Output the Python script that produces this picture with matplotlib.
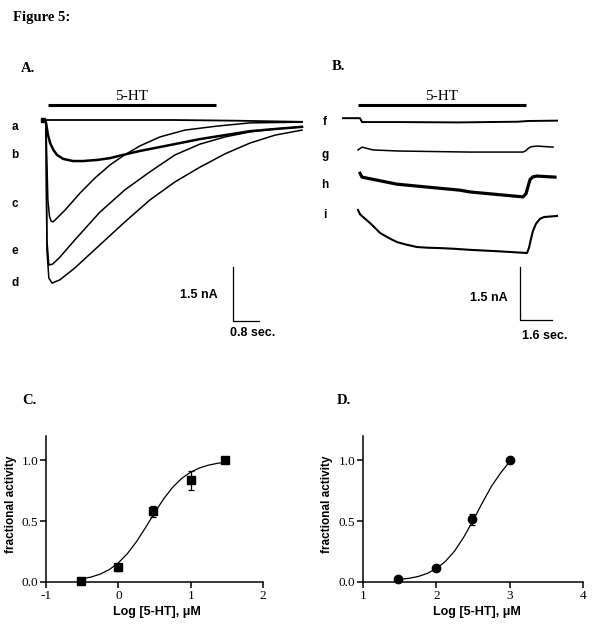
import matplotlib.pyplot as plt

W, H = 600, 627
SERIF = 'Liberation Serif'
SANS = 'Liberation Sans'

# ---- panel A: current traces (time in s, current in nA) ----
a_t = [0, 2, 4, 6, 7.97]
a_i = [0, 0, 0, -0.02, -0.05]
b_t = [0, 0.09, 0.15, 0.22, 0.32, 0.43, 0.62, 0.92, 1.23, 1.66, 2.06, 2.46, 2.98, 3.60, 4.22, 4.83, 5.60, 6.37, 7.14, 7.97]
b_i = [0, -0.06, -0.40, -0.64, -0.83, -0.97, -1.08, -1.14, -1.14, -1.11, -1.06, -0.97, -0.86, -0.75, -0.64, -0.53, -0.42, -0.31, -0.25, -0.19]
c_t = [0, 0.09, 0.15, 0.2, 0.25, 0.3, 0.37, 0.68, 1.14, 1.60, 2.06, 2.46, 2.98, 3.60, 4.37, 5.35, 6.37, 7.97]
c_i = [0, -0.06, -2.22, -2.68, -2.81, -2.83, -2.78, -2.50, -2.03, -1.61, -1.25, -1.00, -0.72, -0.47, -0.28, -0.17, -0.08, -0.06]
e_t = [0, 0.09, 0.12, 0.18, 0.3, 0.52, 0.98, 1.75, 2.52, 3.29, 4.06, 4.83, 5.60, 6.37, 7.14, 7.97]
e_i = [0, -0.06, -3.33, -4.03, -4.00, -3.81, -3.33, -2.56, -1.94, -1.44, -0.97, -0.67, -0.47, -0.33, -0.25, -0.19]
d_t = [0, 0.09, 0.12, 0.18, 0.28, 0.52, 0.98, 1.75, 2.52, 3.29, 4.06, 4.83, 5.60, 6.37, 7.14, 7.97]
d_i = [0, -0.06, -3.61, -4.39, -4.53, -4.44, -4.11, -3.47, -2.83, -2.22, -1.72, -1.31, -0.94, -0.64, -0.42, -0.28]
a_labels = ['a', 'b', 'c', 'e', 'd']
a_app = [0.15, 5.32]          # 5-HT application, s

# ---- panel B: current traces relative to wash baseline ----
f_t = [-0.75, 0.1, 0.2, 2.0, 5.0, 8.0, 8.5, 9.95]
f_i = [0.08, 0.08, -0.03, -0.03, -0.04, -0.02, 0.0, 0.01]
g_t = [0, 0.2, 0.75, 2.0, 5.6, 8.25, 8.4, 8.5, 8.65, 8.95, 9.75]
g_i = [-0.08, 0.0, -0.08, -0.11, -0.14, -0.14, -0.10, -0.04, 0.01, 0.03, 0.0]
h_t = [0.1, 0.2, 1.95, 5.1, 5.6, 8.25, 8.4, 8.5, 8.6, 8.75, 8.95, 9.85]
h_i = [0.08, -0.03, -0.23, -0.40, -0.45, -0.59, -0.50, -0.30, -0.10, -0.02, 0.0, -0.03]
i_t = [0, 0.1, 0.25, 0.4, 0.6, 0.8, 1.1, 1.4, 1.7, 1.95, 2.4, 2.95, 3.5, 4.1, 4.8, 5.6, 7.0, 8.45,
       8.55, 8.65, 8.75, 8.9, 9.1, 9.3, 9.95]
i_i = [0.17, 0.05, -0.03, -0.10, -0.20, -0.31, -0.48, -0.58, -0.67, -0.74, -0.81, -0.88, -0.90, -0.91,
       -0.93, -0.96, -1.00, -1.05, -0.90, -0.65, -0.42, -0.22, -0.08, -0.03, 0.0]
b_labels = ['f', 'g', 'h', 'i']
b_app = [0.0, 8.4]

# ---- panel C / D: concentration-response ----
c_logc = [-0.52, 0.0, 0.48, 1.0, 1.48]
c_frac = [0.005, 0.12, 0.58, 0.835, 1.0]
c_err = [0, 0.03, 0.045, 0.075, 0]
c_fit_x = [-0.52, -0.375, -0.25, -0.125, 0, 0.125, 0.25, 0.375, 0.5, 0.625, 0.75, 0.875, 1.0, 1.125, 1.25, 1.375, 1.49]
c_fit_y = [0.024, 0.041, 0.065, 0.102, 0.157, 0.233, 0.331, 0.446, 0.568, 0.682, 0.778, 0.851, 0.903, 0.938, 0.961, 0.976, 0.985]

d_logc = [1.48, 2.0, 2.48, 3.0]
d_frac = [0.027, 0.118, 0.515, 1.0]
d_err = [0, 0, 0.045, 0]
d_fit_x = [1.48, 1.625, 1.75, 1.875, 2.0, 2.125, 2.25, 2.375, 2.5, 2.625, 2.75, 2.875, 3.0]
d_fit_y = [0.02, 0.03, 0.045, 0.07, 0.11, 0.17, 0.255, 0.37, 0.505, 0.648, 0.785, 0.895, 0.99]


def box(l, t, r, b):
    return [l / W, 1 - b / H, (r - l) / W, (b - t) / H]


def ftext(x, y, s, **kw):
    fig.text(x / W, 1 - y / H, s, **kw)


fig = plt.figure(figsize=(6, 6.27), dpi=100)

ftext(13, 17, 'Figure 5:', family=SERIF, weight='bold', fontsize=10.5, va='center')
for lab, x, y in [('A.', 21, 68), ('B.', 332, 67), ('C.', 22, 400), ('D.', 337, 400)]:
    ftext(x, y, lab, family=SERIF, weight='bold', fontsize=10.5, va='center')

# panel A
axA = fig.add_axes(box(0, 85, 310, 345))
axA.set_xlim(-43 / 32.5, 267 / 32.5)
axA.set_ylim(-225 / 36, 35 / 36)
axA.axis('off')
axA.plot(a_t, a_i, color='black', lw=1.3)
axA.plot(b_t, b_i, color='black', lw=1.8)
axA.plot(c_t, c_i, color='black', lw=1.1)
axA.plot(e_t, e_i, color='black', lw=1.1)
axA.plot(d_t, d_i, color='black', lw=1.1)
axA.plot(a_t[0], a_i[0], 's', color='black', ms=3.5)
axA.plot(a_app, [0.42, 0.42], color='black', lw=2.2, solid_capstyle='butt')
axA.text(sum(a_app) / 2, 0.47, '5-HT', family=SERIF, fontsize=11, ha='center', va='bottom')
axA.plot([5.85, 5.85, 6.65], [-4.08, -5.58, -5.58], color='black', lw=0.9)
for lab, y in zip(a_labels, [127, 155, 204, 251, 283]):
    ftext(15, y, lab, family=SANS, weight='bold', fontsize=8.5, ha='center', va='center')
ftext(218, 295, '1.5 nA', family=SANS, weight='bold', fontsize=9, ha='right', va='center')
ftext(230, 333, '0.8 sec.', family=SANS, weight='bold', fontsize=9, ha='left', va='center')

# panel B
axB = fig.add_axes(box(310, 85, 600, 345))
axB.set_xlim(-48 / 20, 242 / 20)
axB.set_ylim(-224 / 35.3, 36 / 35.3)
axB.axis('off')
b_offsets = [0, -0.74, -1.56, -2.69]
for (t, i), off, lw in zip([(f_t, f_i), (g_t, g_i), (h_t, h_i), (i_t, i_i)], b_offsets, [1.4, 1.1, 2.3, 1.5]):
    axB.plot(t, [v + off for v in i], color='black', lw=lw)
axB.plot(b_app, [0.45, 0.45], color='black', lw=2.2, solid_capstyle='butt')
axB.text(sum(b_app) / 2, 0.5, '5-HT', family=SERIF, fontsize=11, ha='center', va='bottom')
axB.plot([8.1, 8.1, 9.7], [-4.14, -5.64, -5.64], color='black', lw=0.9)
for lab, y in zip(b_labels, [122, 155, 185, 215]):
    ftext(325, y, lab, family=SANS, weight='bold', fontsize=8.5, ha='center', va='center')
ftext(508, 298, '1.5 nA', family=SANS, weight='bold', fontsize=9, ha='right', va='center')
ftext(522, 336, '1.6 sec.', family=SANS, weight='bold', fontsize=9, ha='left', va='center')


def dose_axes(rect, xlim, xticks, xl_x):
    ax = fig.add_axes(rect)
    ax.set_xlim(*xlim)
    ax.set_ylim(0, 1.2)
    for s in ['top', 'right']:
        ax.spines[s].set_visible(False)
    for s in ['left', 'bottom']:
        ax.spines[s].set_linewidth(1.1)
    ax.set_xticks(xticks)
    ax.set_xticklabels([str(v) for v in xticks])
    ax.set_yticks([0, 0.5, 1.0])
    ax.set_yticklabels(['0.0', '0.5', '1.0'])
    ax.tick_params(direction='out', length=4, width=1.1, pad=1.5, labelsize=9.5)
    for lab in ax.get_xticklabels() + ax.get_yticklabels():
        lab.set_family(SERIF)
    ax.set_xlabel('Log [5-HT], μM', family=SANS, weight='bold', fontsize=9)
    ax.set_ylabel('fractional activity', family=SANS, weight='bold', fontsize=8.5)
    ax.xaxis.set_label_coords(xl_x, -0.165)
    ax.yaxis.set_label_coords(-0.135, 0.53)
    return ax


axC = dose_axes(box(46, 436, 263, 582), (-1, 2), [-1, 0, 1, 2], 0.51)
axC.plot(c_fit_x, c_fit_y, color='black', lw=0.9)
axC.errorbar(c_logc, c_frac, yerr=c_err, fmt='s', color='black', ms=5.5,
             capsize=2.5, elinewidth=0.9, capthick=0.9, clip_on=False)

axD = dose_axes(box(363, 436, 583, 582), (1, 4), [1, 2, 3, 4], 0.52)
axD.plot(d_fit_x, d_fit_y, color='black', lw=0.9)
axD.errorbar(d_logc, d_frac, yerr=d_err, fmt='o', color='black', ms=6,
             capsize=2.5, elinewidth=0.9, capthick=0.9, clip_on=False)

fig.savefig('out.png', dpi=100)
